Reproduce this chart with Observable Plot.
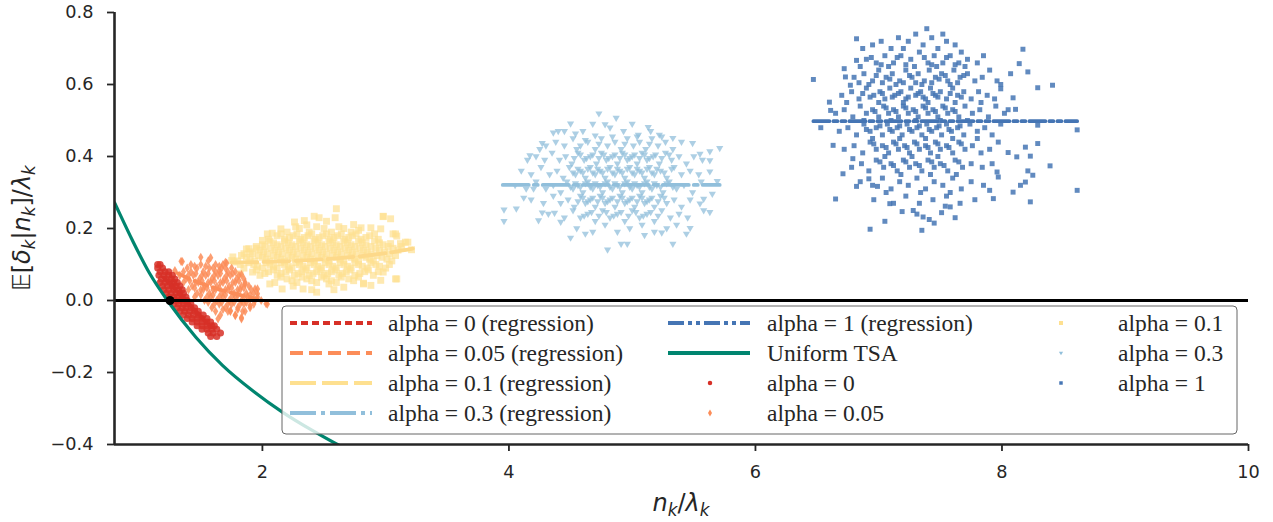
<!DOCTYPE html>
<html><head><meta charset="utf-8">
<script src="https://cdn.jsdelivr.net/npm/d3@7"></script>
<script src="https://cdn.jsdelivr.net/npm/@observablehq/plot@0.6"></script>
<style>body{margin:0;background:#fff;}#chart{width:1273px;height:522px;}#chart svg{font-family:"DejaVu Sans",sans-serif;}</style>
</head><body><div id="chart"></div>
<script>
// ---- data ----
const xTicks = [2, 4, 6, 8, 10];
const yTicks = [-0.4, -0.2, 0.0, 0.2, 0.4, 0.6, 0.8];

// scatter: alpha = 0 (circles)
const alpha0 = [
[1.15,.10],[1.17,.10],[1.15,.09],[1.19,.09],[1.17,.08],[1.21,.08],[1.24,.08],
[1.16,.07],[1.20,.07],[1.24,.07],[1.27,.07],[1.18,.06],[1.22,.06],[1.26,.06],[1.29,.06],
[1.17,.05],[1.21,.05],[1.25,.05],[1.28,.05],[1.31,.05],[1.19,.04],[1.23,.04],[1.27,.04],[1.30,.04],[1.33,.04],
[1.20,.03],[1.24,.03],[1.28,.03],[1.32,.03],[1.35,.03],[1.22,.02],[1.26,.02],[1.30,.02],[1.33,.02],[1.36,.02],
[1.24,.01],[1.28,.01],[1.31,.01],[1.35,.01],[1.38,.01],[1.26,.00],[1.30,.00],[1.33,.00],[1.36,.00],[1.39,.00],
[1.28,-.01],[1.32,-.01],[1.36,-.01],[1.39,-.01],[1.42,-.01],[1.31,-.02],[1.35,-.02],[1.38,-.02],[1.42,-.02],[1.45,-.02],
[1.33,-.03],[1.37,-.03],[1.41,-.03],[1.45,-.03],[1.48,-.03],[1.36,-.04],[1.40,-.04],[1.44,-.04],[1.48,-.04],[1.52,-.04],
[1.39,-.05],[1.43,-.05],[1.47,-.05],[1.51,-.05],[1.55,-.05],[1.43,-.06],[1.47,-.06],[1.51,-.06],[1.55,-.06],[1.58,-.06],
[1.47,-.07],[1.51,-.07],[1.55,-.07],[1.59,-.07],[1.61,-.07],[1.51,-.08],[1.55,-.08],[1.59,-.08],[1.63,-.08],
[1.56,-.09],[1.60,-.09],[1.66,-.09],[1.58,-.10],[1.63,-.10]
];

// scatter: alpha = 0.05 (diamonds)
const alpha005 = [
[1.35,.108],[1.58,.119],[1.71,.104],[1.83,.072],[1.86,.046],[1.94,.032],[2.03,-.009],[1.83,-.051],[1.64,-.051],
[1.74,-.028],[1.29,.083],[1.50,.12],[1.65,.083],[1.96,.019],[1.90,-.014],[1.78,-.042],[2.04,-.01],[1.83,-.047],
[1.96,.032],[1.70,.106],[1.34,.109],
[1.42,.10],[1.50,.10],[1.56,.11],[1.62,.10],[1.68,.10],
[1.36,.08],[1.42,.08],[1.47,.09],[1.52,.08],[1.57,.09],[1.62,.08],[1.67,.09],[1.72,.08],[1.78,.08],
[1.38,.06],[1.44,.07],[1.49,.06],[1.54,.07],[1.59,.06],[1.64,.07],[1.69,.06],[1.74,.07],[1.79,.06],[1.85,.06],
[1.43,.04],[1.48,.05],[1.53,.04],[1.58,.05],[1.63,.04],[1.68,.05],[1.73,.04],[1.78,.05],[1.83,.04],[1.89,.04],
[1.47,.02],[1.52,.03],[1.57,.02],[1.62,.03],[1.67,.02],[1.72,.03],[1.77,.02],[1.82,.03],[1.87,.02],[1.93,.02],
[1.53,.00],[1.58,.01],[1.63,.00],[1.68,.01],[1.73,.00],[1.78,.01],[1.83,.00],[1.88,.01],[1.94,.00],[1.99,.00],
[1.59,-.02],[1.65,-.01],[1.70,-.02],[1.75,-.01],[1.80,-.02],[1.85,-.01],[1.90,-.02],
[1.66,-.04],[1.72,-.03],[1.78,-.04],[1.84,-.03],
[1.39,.09],[1.45,.095],[1.54,.095],[1.60,.09],[1.65,.095],[1.70,.09],[1.75,.09],
[1.33,.07],[1.40,.07],[1.46,.075],[1.51,.07],[1.56,.075],[1.61,.07],[1.66,.075],[1.71,.07],[1.76,.075],[1.81,.07],
[1.36,.05],[1.41,.055],[1.46,.05],[1.51,.055],[1.56,.05],[1.61,.055],[1.66,.05],[1.71,.055],[1.76,.05],[1.81,.055],[1.86,.05],
[1.40,.03],[1.45,.035],[1.50,.03],[1.55,.035],[1.60,.03],[1.65,.035],[1.70,.03],[1.75,.035],[1.80,.03],[1.85,.035],[1.91,.03],
[1.45,.01],[1.50,.015],[1.55,.01],[1.60,.015],[1.65,.01],[1.70,.015],[1.75,.01],[1.80,.015],[1.85,.01],[1.90,.015],[1.96,.01],
[1.56,-.005],[1.61,-.01],[1.67,-.005],[1.72,-.01],[1.77,-.005],[1.82,-.01],[1.87,-.005],[1.93,-.01],
[1.62,-.03],[1.68,-.025],[1.74,-.03],[1.80,-.025],[1.86,-.03]
];

// scatter: alpha = 0.1 (squares)
const alpha01 = [
[2.60,.255],[2.42,.234],[2.46,.23],[2.59,.23],[2.98,.234],[3.04,.227],[2.26,.218],[2.34,.222],[2.74,.211],
[2.80,.202],[2.88,.202],[2.96,.199],[3.06,.185],[3.09,.179],[3.18,.162],[3.12,.158],[3.04,.158],[3.21,.141],
[2.04,.185],[2.00,.167],[1.89,.144],[1.76,.121],[1.77,.107],[1.82,.074],[1.92,.079],[2.15,.199],[2.08,.187],
[3.09,.06],[2.96,.056],[2.82,.048],[2.88,.042],[2.98,.079],[2.98,.233],[3.08,.06],[3.08,.185],[3.16,.162],
[2.44,.023],[2.33,.032],[2.16,.032],[2.06,.046],[2.54,.046],[2.66,.037],[2.82,.046],[1.87,.143],[1.75,.111],
[2.20,.19],[2.30,.20],[2.38,.19],[2.50,.20],[2.56,.19],[2.66,.20],[2.72,.19],[2.36,.21],[2.52,.22],
[2.05,.17],[2.12,.18],[2.18,.17],[2.25,.18],[2.31,.17],[2.37,.18],[2.43,.17],[2.49,.18],[2.55,.17],[2.61,.18],[2.67,.17],[2.73,.18],[2.80,.17],[2.87,.18],[2.94,.17],
[1.95,.15],[2.02,.15],[2.09,.16],[2.15,.15],[2.21,.16],[2.27,.15],[2.33,.16],[2.39,.15],[2.45,.16],[2.51,.15],[2.57,.16],[2.63,.15],[2.69,.16],[2.75,.15],[2.81,.16],[2.88,.15],[2.95,.16],[3.02,.15],
[1.85,.13],[1.92,.13],[1.98,.14],[2.04,.13],[2.10,.14],[2.16,.13],[2.22,.14],[2.28,.13],[2.34,.14],[2.40,.13],[2.46,.14],[2.52,.13],[2.58,.14],[2.64,.13],[2.70,.14],[2.76,.13],[2.82,.14],[2.88,.13],[2.95,.14],[3.03,.13],[3.10,.14],
[1.80,.11],[1.87,.12],[1.94,.11],[2.00,.12],[2.06,.11],[2.12,.12],[2.18,.11],[2.24,.12],[2.30,.11],[2.36,.12],[2.42,.11],[2.48,.12],[2.54,.11],[2.60,.12],[2.66,.11],[2.72,.12],[2.78,.11],[2.84,.12],[2.90,.11],[2.97,.12],[3.05,.11],
[1.85,.09],[1.93,.10],[2.00,.09],[2.06,.10],[2.12,.09],[2.18,.10],[2.24,.09],[2.30,.10],[2.36,.09],[2.42,.10],[2.48,.09],[2.54,.10],[2.60,.09],[2.66,.10],[2.72,.09],[2.78,.10],[2.85,.09],[2.92,.10],[3.00,.09],
[1.98,.07],[2.05,.08],[2.12,.07],[2.19,.08],[2.26,.07],[2.32,.08],[2.38,.07],[2.44,.08],[2.50,.07],[2.56,.08],[2.62,.07],[2.68,.08],[2.75,.07],[2.83,.08],[2.90,.07],
[2.10,.05],[2.20,.06],[2.28,.05],[2.36,.06],[2.44,.05],[2.52,.06],[2.60,.05],[2.70,.06],
[2.25,.04],[2.40,.03],[2.58,.03],
[2.27,.205],[2.44,.205],[2.62,.205],[2.78,.195],
[2.15,.185],[2.22,.175],[2.28,.185],[2.34,.175],[2.40,.185],[2.46,.175],[2.52,.185],[2.58,.175],[2.64,.185],[2.70,.175],[2.76,.185],[2.84,.175],[2.91,.185],
[2.00,.155],[2.06,.165],[2.12,.155],[2.18,.165],[2.24,.155],[2.30,.165],[2.36,.155],[2.42,.165],[2.48,.155],[2.54,.165],[2.60,.155],[2.66,.165],[2.72,.155],[2.78,.165],[2.84,.155],[2.91,.165],[2.98,.155],
[1.90,.135],[1.95,.145],[2.01,.135],[2.07,.145],[2.13,.135],[2.19,.145],[2.25,.135],[2.31,.145],[2.37,.135],[2.43,.145],[2.49,.135],[2.55,.145],[2.61,.135],[2.67,.145],[2.73,.135],[2.79,.145],[2.85,.135],[2.92,.145],[2.99,.135],[3.06,.145],[3.13,.15],
[1.83,.125],[1.90,.115],[1.97,.125],[2.03,.115],[2.09,.125],[2.15,.115],[2.21,.125],[2.27,.115],[2.33,.125],[2.39,.115],[2.45,.125],[2.51,.115],[2.57,.125],[2.63,.115],[2.69,.125],[2.75,.115],[2.81,.125],[2.87,.115],[2.93,.125],[3.01,.115],[3.08,.125],
[1.82,.10],[1.89,.105],[1.96,.095],[2.03,.105],[2.09,.095],[2.15,.105],[2.21,.095],[2.27,.105],[2.33,.095],[2.39,.105],[2.45,.095],[2.51,.105],[2.57,.095],[2.63,.105],[2.69,.095],[2.75,.105],[2.81,.095],[2.88,.105],[2.95,.095],[3.03,.10],
[1.95,.085],[2.02,.075],[2.09,.085],[2.15,.075],[2.22,.085],[2.29,.075],[2.35,.085],[2.41,.075],[2.47,.085],[2.53,.075],[2.59,.085],[2.65,.075],[2.71,.085],[2.79,.075],[2.86,.085],[2.94,.08],
[2.15,.065],[2.24,.055],[2.32,.065],[2.40,.055],[2.48,.065],[2.56,.055],[2.64,.065],[2.74,.055],[2.78,.065]
];

// scatter: alpha = 0.3 (down triangles)
const alpha03 = [
[4.73,.519],[4.87,.507],[4.50,.491],[4.36,.466],[4.40,.47],[4.78,.489],[4.17,.403],[4.27,.437],[4.12,.285],
[4.06,.255],[3.96,.252],[3.96,.22],[4.24,.222],[4.27,.244],[4.20,.31],[5.71,.423],[5.63,.414],[5.63,.389],
[5.63,.358],[5.55,.407],[5.69,.331],[5.65,.296],[5.58,.282],[5.63,.245],[5.49,.437],[5.33,.451],[5.13,.481],
[5.33,.157],[4.80,.141],[4.91,.157],[4.96,.157],[4.50,.174],[4.62,.185],[5.10,.181],[5.24,.188],[5.44,.185],
[5.47,.201],[4.42,.218],[4.37,.243],[5.55,.269],[5.58,.25],[4.70,.458],[4.54,.463],
[4.60,.47],[4.82,.48],[4.93,.47],[5.00,.49],[5.05,.46],[5.15,.47],[5.22,.46],[4.45,.47],[4.68,.49],
[4.30,.43],[4.38,.44],[4.45,.43],[4.52,.45],[4.58,.43],[4.64,.44],[4.70,.42],[4.75,.45],[4.80,.43],[4.86,.44],[4.91,.42],[4.96,.45],[5.01,.43],[5.06,.44],[5.11,.42],[5.16,.45],[5.21,.43],[5.27,.44],[5.33,.42],[5.40,.44],[4.25,.42],[4.55,.42],
[4.15,.39],[4.22,.40],[4.29,.39],[4.35,.41],[4.41,.39],[4.46,.40],[4.51,.38],[4.56,.41],[4.61,.39],[4.66,.40],[4.71,.38],[4.75,.41],[4.79,.39],[4.84,.40],[4.88,.38],[4.92,.41],[4.96,.39],[5.00,.40],[5.04,.38],[5.08,.41],[5.12,.39],[5.17,.40],[5.22,.38],[5.27,.41],[5.32,.39],[5.38,.40],[5.44,.38],[5.50,.40],[5.57,.39],
[4.10,.36],[4.18,.35],[4.26,.37],[4.33,.35],[4.39,.36],[4.44,.34],[4.49,.37],[4.54,.35],[4.58,.36],[4.62,.34],[4.66,.37],[4.70,.35],[4.74,.36],[4.78,.34],[4.82,.37],[4.86,.35],[4.90,.36],[4.94,.34],[4.98,.37],[5.02,.35],[5.06,.36],[5.10,.34],[5.14,.37],[5.18,.35],[5.23,.36],[5.28,.34],[5.34,.37],[5.40,.35],[5.47,.36],[5.54,.35],
[4.05,.32],[4.14,.31],[4.22,.33],[4.30,.31],[4.36,.32],[4.42,.30],[4.47,.33],[4.52,.31],[4.56,.32],[4.60,.30],[4.64,.33],[4.68,.31],[4.72,.32],[4.76,.30],[4.80,.33],[4.84,.31],[4.88,.32],[4.92,.30],[4.96,.33],[5.00,.31],[5.04,.32],[5.08,.30],[5.12,.33],[5.16,.31],[5.20,.32],[5.25,.30],[5.30,.33],[5.36,.31],[5.42,.32],[5.49,.30],[5.56,.33],
[4.18,.28],[4.28,.27],[4.36,.29],[4.42,.27],[4.48,.28],[4.53,.26],[4.58,.29],[4.62,.27],[4.66,.28],[4.70,.26],[4.74,.29],[4.78,.27],[4.82,.28],[4.86,.26],[4.90,.29],[4.94,.27],[4.98,.28],[5.02,.26],[5.06,.29],[5.10,.27],[5.14,.28],[5.18,.26],[5.23,.29],[5.28,.27],[5.34,.28],[5.40,.26],[5.47,.28],
[4.32,.24],[4.45,.23],[4.52,.25],[4.58,.23],[4.64,.24],[4.70,.22],[4.76,.25],[4.82,.23],[4.88,.24],[4.94,.22],[5.00,.25],[5.06,.23],[5.12,.24],[5.18,.22],[5.24,.25],[5.31,.23],[5.38,.24],[5.45,.23],
[4.55,.20],[4.68,.19],[4.78,.21],[4.88,.19],[4.98,.20],[5.08,.21],[5.18,.19],[5.28,.20],[5.36,.21],
[4.62,.445],[4.73,.435],[4.84,.455],[4.94,.435],[5.04,.455],[5.14,.435],[5.24,.455],
[4.53,.395],[4.58,.405],[4.63,.395],[4.68,.405],[4.73,.395],[4.77,.405],[4.81,.395],[4.86,.405],[4.90,.395],[4.94,.405],[4.98,.395],[5.02,.405],[5.06,.395],[5.10,.405],[5.14,.395],[5.19,.405],[5.24,.395],[5.30,.405],
[4.52,.355],[4.56,.365],[4.60,.355],[4.64,.365],[4.68,.355],[4.72,.365],[4.76,.355],[4.80,.365],[4.84,.355],[4.88,.365],[4.92,.355],[4.96,.365],[5.00,.355],[5.04,.365],[5.08,.355],[5.12,.365],[5.16,.355],[5.20,.365],[5.26,.355],[5.32,.365],
[4.50,.315],[4.54,.325],[4.58,.315],[4.62,.325],[4.66,.315],[4.70,.325],[4.74,.315],[4.78,.325],[4.82,.315],[4.86,.325],[4.90,.315],[4.94,.325],[4.98,.315],[5.02,.325],[5.06,.315],[5.10,.325],[5.14,.315],[5.18,.325],[5.23,.315],[5.28,.325],[5.33,.315],
[4.56,.275],[4.60,.285],[4.64,.275],[4.68,.285],[4.72,.275],[4.76,.285],[4.80,.275],[4.84,.285],[4.88,.275],[4.92,.285],[4.96,.275],[5.00,.285],[5.04,.275],[5.08,.285],[5.12,.275],[5.16,.285],[5.21,.275],[5.26,.285],
[4.61,.235],[4.67,.245],[4.73,.235],[4.79,.245],[4.85,.235],[4.91,.245],[4.97,.235],[5.03,.245],[5.09,.235],[5.15,.245],[5.21,.235]
];

// scatter: alpha = 1 (small squares)
const alpha1 = [
[6.47,.614],[6.53,.48],[6.60,.551],[6.61,.528],[6.63,.431],[6.65,.282],[6.71,.352],[6.72,.644],[6.73,.621],
[6.77,.598],[6.79,.394],[6.82,.727],[6.82,.317],[6.82,.667],[6.93,.198],[6.92,.338],[6.99,.317],[7.09,.269],
[7.19,.247],[7.31,.24],[7.35,.195],[7.36,.232],[7.41,.225],[7.45,.215],[7.51,.244],[7.54,.262],[7.58,.26],
[7.39,.755],[8.17,.698],[8.14,.658],[8.07,.63],[8.21,.635],[8.29,.591],[8.41,.598],[8.39,.374],[8.61,.474],
[8.61,.306],[8.23,.274],[8.25,.348],[8.21,.36],[8.19,.329],[8.15,.32],[8.09,.301],[8.23,.401],[8.19,.426],
[8.29,.436],[8.29,.487],[8.12,.399],[8.05,.411],[8.09,.563],[8.11,.531],[7.99,.60],[7.99,.588],[8.05,.53],
[7.93,.283],[7.90,.306],[7.96,.357],[7.97,.343],
[6.95,.71],[7.02,.72],[7.10,.70],[7.16,.73],[7.24,.72],[7.30,.74],[7.36,.71],[7.43,.73],[7.48,.70],[7.55,.72],[7.62,.71],[7.67,.69],[6.87,.70],[7.20,.70],[7.52,.74],
[6.90,.67],[6.98,.66],[7.05,.68],[7.12,.66],[7.18,.68],[7.26,.67],[7.33,.69],[7.40,.66],[7.45,.68],[7.52,.66],[7.58,.68],[7.65,.66],[7.72,.67],[7.80,.66],[6.85,.65],[7.08,.65],[7.29,.65],[7.47,.65],[7.70,.65],[7.85,.68],
[6.80,.62],[6.88,.63],[6.95,.61],[7.00,.64],[7.06,.62],[7.11,.63],[7.17,.61],[7.22,.64],[7.27,.62],[7.32,.63],[7.37,.61],[7.41,.64],[7.46,.62],[7.51,.63],[7.56,.61],[7.61,.64],[7.66,.62],[7.72,.63],[7.78,.61],[7.84,.62],[7.90,.64],[7.96,.61],[6.92,.60],[7.14,.60],[7.35,.60],[7.58,.60],
[6.70,.57],[6.78,.58],[6.84,.56],[6.90,.59],[6.96,.57],[7.01,.58],[7.05,.56],[7.09,.59],[7.13,.57],[7.18,.58],[7.22,.56],[7.26,.59],[7.30,.57],[7.34,.58],[7.38,.56],[7.42,.59],[7.46,.57],[7.50,.58],[7.55,.56],[7.60,.59],[7.64,.57],[7.69,.58],[7.75,.56],[7.81,.58],[7.88,.57],[7.94,.56],[6.74,.55],[7.00,.55],[7.20,.55],[7.40,.55],[7.62,.55],[7.83,.55],
[6.65,.52],[6.72,.53],[6.79,.51],[6.85,.54],[6.90,.52],[6.95,.53],[7.00,.51],[7.04,.54],[7.08,.52],[7.12,.53],[7.16,.51],[7.20,.54],[7.24,.52],[7.28,.53],[7.32,.51],[7.36,.54],[7.40,.52],[7.44,.53],[7.48,.51],[7.52,.54],[7.56,.52],[7.60,.53],[7.65,.51],[7.70,.54],[7.76,.52],[7.82,.53],[7.89,.51],[7.95,.54],[8.02,.52],[6.88,.50],[7.10,.50],[7.30,.50],[7.50,.50],[7.72,.50],
[6.68,.47],[6.75,.48],[6.82,.46],[6.88,.49],[6.93,.47],[6.98,.48],[7.03,.46],[7.07,.49],[7.11,.47],[7.15,.48],[7.19,.46],[7.23,.49],[7.27,.47],[7.31,.48],[7.35,.46],[7.39,.49],[7.43,.47],[7.47,.48],[7.51,.46],[7.55,.49],[7.59,.47],[7.64,.48],[7.69,.46],[7.74,.49],[7.80,.47],[7.86,.48],[7.92,.46],[7.99,.49],[6.95,.45],[7.17,.45],[7.38,.45],[7.60,.45],[7.80,.45],
[6.72,.42],[6.80,.43],[6.87,.41],[6.93,.44],[6.98,.42],[7.03,.43],[7.08,.41],[7.12,.44],[7.16,.42],[7.21,.43],[7.25,.41],[7.29,.44],[7.33,.42],[7.38,.43],[7.42,.41],[7.46,.44],[7.50,.42],[7.55,.43],[7.60,.41],[7.65,.44],[7.70,.42],[7.76,.43],[7.83,.41],[7.90,.42],[7.97,.44],[7.05,.40],[7.27,.40],[7.48,.40],
[6.78,.37],[6.86,.38],[6.92,.36],[6.98,.39],[7.04,.37],[7.10,.38],[7.15,.36],[7.20,.39],[7.25,.37],[7.30,.38],[7.35,.36],[7.40,.39],[7.45,.37],[7.50,.38],[7.56,.36],[7.62,.39],[7.68,.37],[7.75,.38],[7.84,.37],[7.92,.38],[7.18,.35],[7.42,.35],[7.63,.35],
[6.85,.33],[6.95,.32],[7.03,.34],[7.10,.31],[7.17,.33],[7.24,.32],[7.31,.34],[7.38,.31],[7.45,.33],[7.52,.32],[7.60,.34],[7.67,.31],[7.75,.33],[7.85,.32],[7.06,.30],[7.34,.30],[7.58,.30],
[6.96,.28],[7.12,.27],[7.22,.29],[7.33,.27],[7.44,.28],[7.55,.29],[7.66,.27],[7.78,.28],[7.05,.22],[7.62,.23],[7.28,.25],
[6.94,.675],[7.02,.655],[7.15,.675],[7.22,.655],[7.37,.675],[7.43,.655],[7.55,.675],[7.62,.655],
[6.84,.605],[6.98,.625],[7.03,.605],[7.09,.615],[7.20,.605],[7.25,.625],[7.30,.605],[7.43,.605],[7.49,.615],[7.54,.625],[7.64,.605],[7.69,.625],
[6.87,.575],[6.93,.565],[7.03,.575],[7.11,.565],[7.16,.575],[7.24,.565],[7.32,.575],[7.36,.565],[7.44,.575],[7.48,.565],[7.58,.575],[7.67,.565],
[6.97,.525],[7.06,.535],[7.14,.525],[7.22,.535],[7.30,.525],[7.38,.535],[7.46,.525],[7.54,.535],[7.62,.525],
[6.90,.475],[7.01,.485],[7.09,.475],[7.17,.485],[7.25,.475],[7.33,.485],[7.41,.475],[7.49,.485],[7.57,.475],[7.66,.485],
[6.96,.435],[7.06,.425],[7.14,.435],[7.23,.425],[7.31,.435],[7.40,.425],[7.48,.435],[7.57,.425],[7.67,.435],
[7.01,.385],[7.12,.375],[7.22,.385],[7.33,.375],[7.43,.385],[7.53,.375],[7.65,.385]
];

// regression lines
const reg0 = [[1.20,.064],[1.58,-.074]];
const reg005 = [[1.31,.076],[1.45,.054],[1.60,.036],[1.75,.021],[1.96,.004]];
const reg01 = [[1.75,.106],[2.00,.107],[2.31,.111],[2.60,.117],[2.85,.125],[3.05,.134],[3.22,.144]];
const reg03 = [[3.95,.321],[5.71,.321]];
const reg1 = [[6.47,.498],[8.61,.498]];

// Uniform TSA curve
const tsa = [[0.80,.272],[0.811,.264],[0.947,.166],[1.082,.077],[1.244,-.007],[1.46,-.102],[1.676,-.180],
[1.919,-.250],[2.162,-.310],[2.405,-.361],[2.62,-.402],[2.70,-.416]];
const crossing = [[1.25, 0]];

// legend entries
const legendLines = [
  {label: "alpha = 0 (regression)", color: "#d73027", dash: "7,4"},
  {label: "alpha = 0.05 (regression)", color: "#fc8d59", dash: "13,6"},
  {label: "alpha = 0.1 (regression)", color: "#fee090", dash: "26,6"},
  {label: "alpha = 0.3 (regression)", color: "#91bfdb", dash: "26,5,4,5"},
  {label: "alpha = 1 (regression)", color: "#4575b4", dash: "16,4,4,4,4,4"},
  {label: "Uniform TSA", color: "#00856f", dash: null}
];
const legendMarkers = [
  {label: "alpha = 0", color: "#d73027", shape: "circle"},
  {label: "alpha = 0.05", color: "#fc8d59", shape: "diamond"},
  {label: "alpha = 0.1", color: "#fee090", shape: "square"},
  {label: "alpha = 0.3", color: "#91bfdb", shape: "triangleDown"},
  {label: "alpha = 1", color: "#4575b4", shape: "square"}
];

// ---- drawing ----
const P = a => a.map(([x, y]) => ({x, y}));
const triangleDown = {draw(ctx, size) {
  const r = Math.sqrt(size / Math.PI);
  ctx.moveTo(-r, -0.62 * r); ctx.lineTo(r, -0.62 * r); ctx.lineTo(0, 1.1 * r); ctx.closePath();
}};
const xDomain = [0.8, 10], yDomain = [-0.4, 0.8];

const svg = Plot.plot({
  width: 1273, height: 522,
  marginLeft: 114, marginRight: 25, marginTop: 12, marginBottom: 78,
  x: {domain: xDomain},
  y: {domain: yDomain},
  style: {fontFamily: "DejaVu Sans", color: "#262626", background: "#fff"},
  marks: [
    Plot.dot(P(alpha01), {x: "x", y: "y", symbol: "square", r: 3.9, fill: "#fee090", fillOpacity: 0.7}),
    Plot.dot(P(alpha005), {x: "x", y: "y", symbol: "diamond", r: 2.8, fill: "#fc8d59", fillOpacity: 0.85}),
    Plot.dot(P(alpha0), {x: "x", y: "y", symbol: "circle", r: 3.5, fill: "#d73027", fillOpacity: 0.85}),
    Plot.dot(P(alpha03), {x: "x", y: "y", symbol: triangleDown, r: 3.6, fill: "#91bfdb", fillOpacity: 0.75}),
    Plot.dot(P(alpha1), {x: "x", y: "y", symbol: "square", r: 2.8, fill: "#4575b4", fillOpacity: 0.85}),
    Plot.line(P(tsa), {x: "x", y: "y", stroke: "#00856f", strokeWidth: 3.2, curve: "monotone-x", clip: true}),
    Plot.line(P(reg0), {x: "x", y: "y", stroke: legendLines[0].color, strokeWidth: 3.8, strokeDasharray: legendLines[0].dash}),
    Plot.line(P(reg005), {x: "x", y: "y", stroke: legendLines[1].color, strokeWidth: 3.8, strokeDasharray: legendLines[1].dash, curve: "natural"}),
    Plot.line(P(reg01), {x: "x", y: "y", stroke: "#fdd98a", strokeWidth: 3.8, strokeDasharray: legendLines[2].dash, curve: "natural"}),
    Plot.line(P(reg03), {x: "x", y: "y", stroke: legendLines[3].color, strokeWidth: 3.8, strokeDasharray: legendLines[3].dash}),
    Plot.line(P(reg1), {x: "x", y: "y", stroke: legendLines[4].color, strokeWidth: 3.8, strokeDasharray: legendLines[4].dash}),
    Plot.ruleY([0], {stroke: "#000", strokeWidth: 3}),
    Plot.dot(P(crossing), {x: "x", y: "y", r: 4.5, fill: "#000"}),
    Plot.ruleX([xDomain[0]], {stroke: "#262626", strokeWidth: 2.6}),
    Plot.ruleY([yDomain[0]], {stroke: "#262626", strokeWidth: 2.6}),
    Plot.axisY({ticks: yTicks, tickFormat: d3.format(".1f"), tickSize: 7, tickPadding: 14, fontSize: 17.7, label: null, strokeWidth: 1.8}),
    Plot.axisX({ticks: xTicks, tickFormat: d => String(d), tickSize: 7, tickPadding: 14, fontSize: 17.7, label: null, strokeWidth: 1.8})
  ]
});
document.getElementById("chart").appendChild(svg);

const root = d3.select(svg);
function mathText(g, parts, size) {
  const t = g.append("text").attr("font-family", "DejaVu Sans").attr("font-size", size)
    .attr("fill", "#262626").attr("text-anchor", "middle");
  let shifted = false;
  for (const p of parts) {
    const s = t.append("tspan").text(p.t);
    if (p.i) s.attr("font-style", "italic");
    if (p.sub) { s.attr("font-size", size * 0.7).attr("dy", size * 0.22); shifted = true; }
    else if (shifted) { s.attr("dy", -size * 0.22); shifted = false; }
  }
  return t;
}
// axis labels
mathText(root.append("g").attr("transform", "translate(681,511)"),
  [{t: "n", i: 1}, {t: "k", i: 1, sub: 1}, {t: "/"}, {t: "λ", i: 1}, {t: "k", i: 1, sub: 1}], 24);
mathText(root.append("g").attr("transform", "translate(30,228) rotate(-90)"),
  [{t: "𝔼["}, {t: "δ", i: 1}, {t: "k", i: 1, sub: 1}, {t: "|"}, {t: "n", i: 1}, {t: "k", i: 1, sub: 1},
   {t: "]/"}, {t: "λ", i: 1}, {t: "k", i: 1, sub: 1}], 24);

// legend
const lg = root.append("g");
lg.append("rect").attr("x", 282).attr("y", 306).attr("width", 955).attr("height", 128).attr("rx", 4)
  .attr("fill", "#fff").attr("fill-opacity", 0.8).attr("stroke", "#666").attr("stroke-width", 1);
const rowY = [323, 353, 383, 413];
const cols = [
  {hx: 290, tx: 388},
  {hx: 668, tx: 767},
  {hx: 1040, tx: 1118}
];
const entries = [
  ...legendLines.map(d => ({...d, kind: "line"})),
  ...legendMarkers.map(d => ({...d, kind: "marker"}))
];
entries.forEach((e, i) => {
  const c = cols[Math.floor(i / 4)], y = rowY[i % 4];
  if (e.kind === "line") {
    lg.append("line").attr("x1", c.hx).attr("x2", c.hx + 82).attr("y1", y).attr("y2", y)
      .attr("stroke", e.color).attr("stroke-width", 3.8).attr("stroke-dasharray", e.dash);
  } else {
    const mx = Math.floor(i / 4) === 1 ? 710 : 1061;
    let path;
    if (e.shape === "circle") path = d3.symbol(d3.symbolCircle, 16)();
    else if (e.shape === "diamond") path = d3.symbol(d3.symbolDiamond, 14)();
    else if (e.shape === "square") path = d3.symbol(d3.symbolSquare, e.label === "alpha = 1" ? 12 : 16)();
    else { const pth = d3.path(); triangleDown.draw(pth, 14); path = pth.toString(); }
    lg.append("path").attr("d", path).attr("transform", `translate(${mx},${y})`).attr("fill", e.color);
  }
  lg.append("text").attr("x", c.tx).attr("y", y).attr("dy", "0.35em").attr("text-anchor", "start")
    .attr("font-family", "Liberation Serif").attr("font-size", 23.5).attr("fill", "#262626")
    .text(e.label);
});
</script></body></html>
